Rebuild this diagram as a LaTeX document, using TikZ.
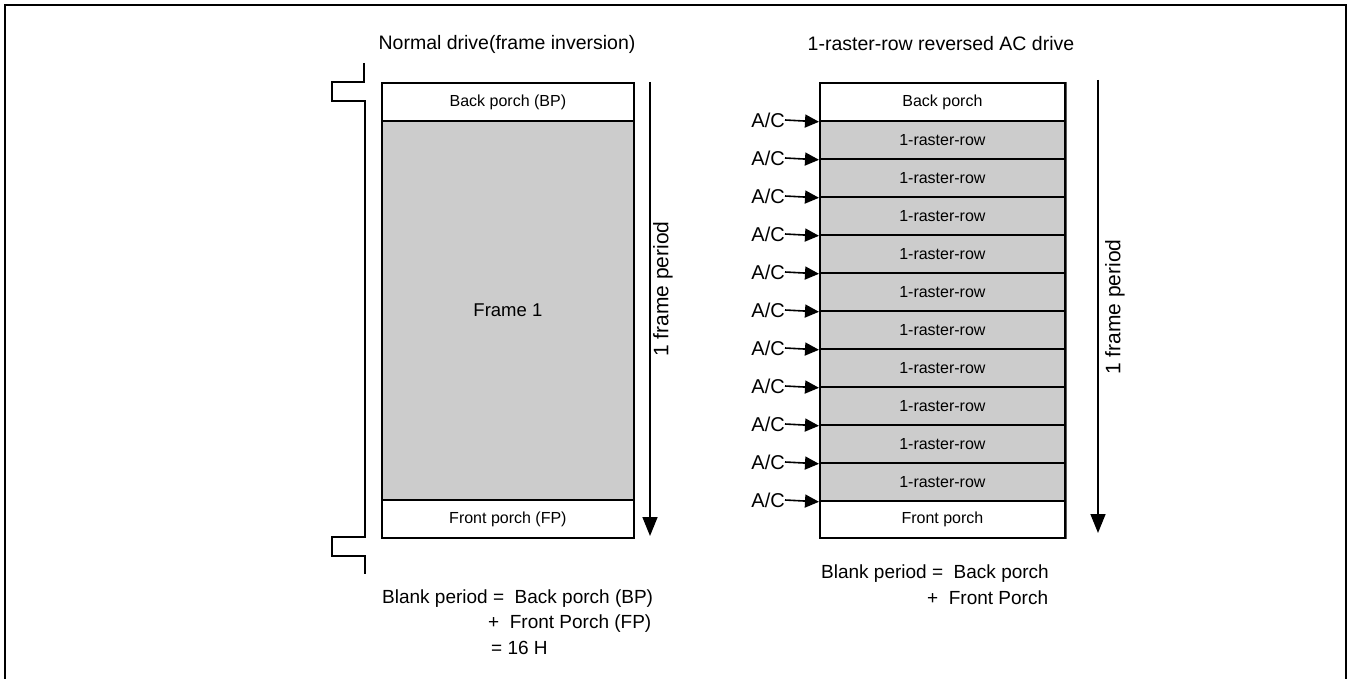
\documentclass[tikz,border=0pt]{standalone}
\usepackage{fontspec}
\setmainfont{Liberation Sans}
\usetikzlibrary{arrows.meta}
\definecolor{rowgray}{RGB}{204,204,204}
\begin{document}
\begin{tikzpicture}[x=1pt,y=-1pt,
  box/.style={draw, line width=1.8pt, inner sep=0pt, anchor=north west, font=\fontsize{16}{19}\selectfont},
  graybox/.style={box, fill=rowgray},
  titletext/.style={inner sep=0pt, font=\fontsize{19.5}{23}\selectfont},
  blanktext/.style={inner sep=0pt, font=\fontsize{19}{23}\selectfont},
  periodtext/.style={inner sep=0pt, rotate=90, font=\fontsize{21}{25}\selectfont},
  aclabel/.style={inner sep=0pt, text depth=0pt, anchor=east, font=\fontsize{20}{24}\selectfont},
  bigarrow/.style={line width=1.6pt, -{Triangle[length=19pt,width=15pt]}},
  acarrow/.style={line width=1.6pt, -{Triangle[length=14pt,width=13pt]}},
  sig/.style={line width=1.6pt},
  frameline/.style={line width=2pt}
]
\useasboundingbox (0,0) rectangle (1353,679);
% outer frame
\draw[frameline] (5,679) -- (5,5.5) -- (1346,5.5) -- (1346,679);

% ---------- left diagram ----------
\node[titletext] (t1) at (507,44) {Normal drive(frame inversion)};
\node[box, minimum width=252pt, minimum height=38pt] (bp1) at (381,82) {Back porch (BP)};
\node[graybox, minimum width=252pt, minimum height=379pt, font=\fontsize{18.5}{22}\selectfont] (f1) at (381,120) {Frame 1};
\node[box, minimum width=252pt, minimum height=38pt] (fp1) at (381,499) {Front porch (FP)};

\draw[sig] (364,63) -- (364,82) -- (332,82) -- (332,101) -- (365,101) -- (365,537) -- (332,537) -- (332,556) -- (365,556) -- (365,574);

\coordinate (a1top) at (650,82);
\coordinate (a1bot) at (650,536);
\draw[bigarrow] (a1top) -- (a1bot);
\node[periodtext] (p1) at (663,289) {1 frame period};

\node[blanktext, anchor=base west] (bl1) at (382,603) {Blank period =\ \ Back porch (BP)};
\node[blanktext, anchor=base west] (bl2) at (488,628) {+\ \ Front Porch (FP)};
\node[blanktext, anchor=base west] (bl3) at (491,654) {= 16 H};

% ---------- right diagram ----------
\node[titletext] (t2) at (941,44) {1-raster-row reversed AC drive};
\node[box, minimum width=245pt, minimum height=38pt] (bp2) at (819,82) {Back porch};
\foreach \i in {1,...,10} {
  \pgfmathsetmacro\yy{120+(\i-1)*38}
  \node[graybox, minimum width=245pt, minimum height=38pt] (r\i) at (819,\yy) {1-raster-row};
}
\node[box, minimum width=245pt, minimum height=37pt] (fp2) at (819,500) {Front porch};
% slight shadow on the right edge
\draw[line width=1.2pt, black!65] ([xshift=0.9pt]bp2.north east) -- ([xshift=0.9pt]fp2.south east);

\node[aclabel] (ac0) at (785,120) {A/C};
\draw[acarrow] (ac0.east) -- (bp2.south west);
\foreach \k in {1,...,10} {
  \pgfmathsetmacro\yy{120+\k*38}
  \node[aclabel] (ac\k) at (785,\yy) {A/C};
  \draw[acarrow] (ac\k.east) -- (r\k.south west);
}

\coordinate (a2top) at (1098,80);
\coordinate (a2bot) at (1098,533);
\draw[bigarrow] (a2top) -- (a2bot);
\node[periodtext] (p2) at (1115,307) {1 frame period};

\node[blanktext, anchor=base west] (bl4) at (821,578) {Blank period =\ \ Back porch};
\node[blanktext, anchor=base west] (bl5) at (927,604) {+\ \ Front Porch};
\end{tikzpicture}
\end{document}
